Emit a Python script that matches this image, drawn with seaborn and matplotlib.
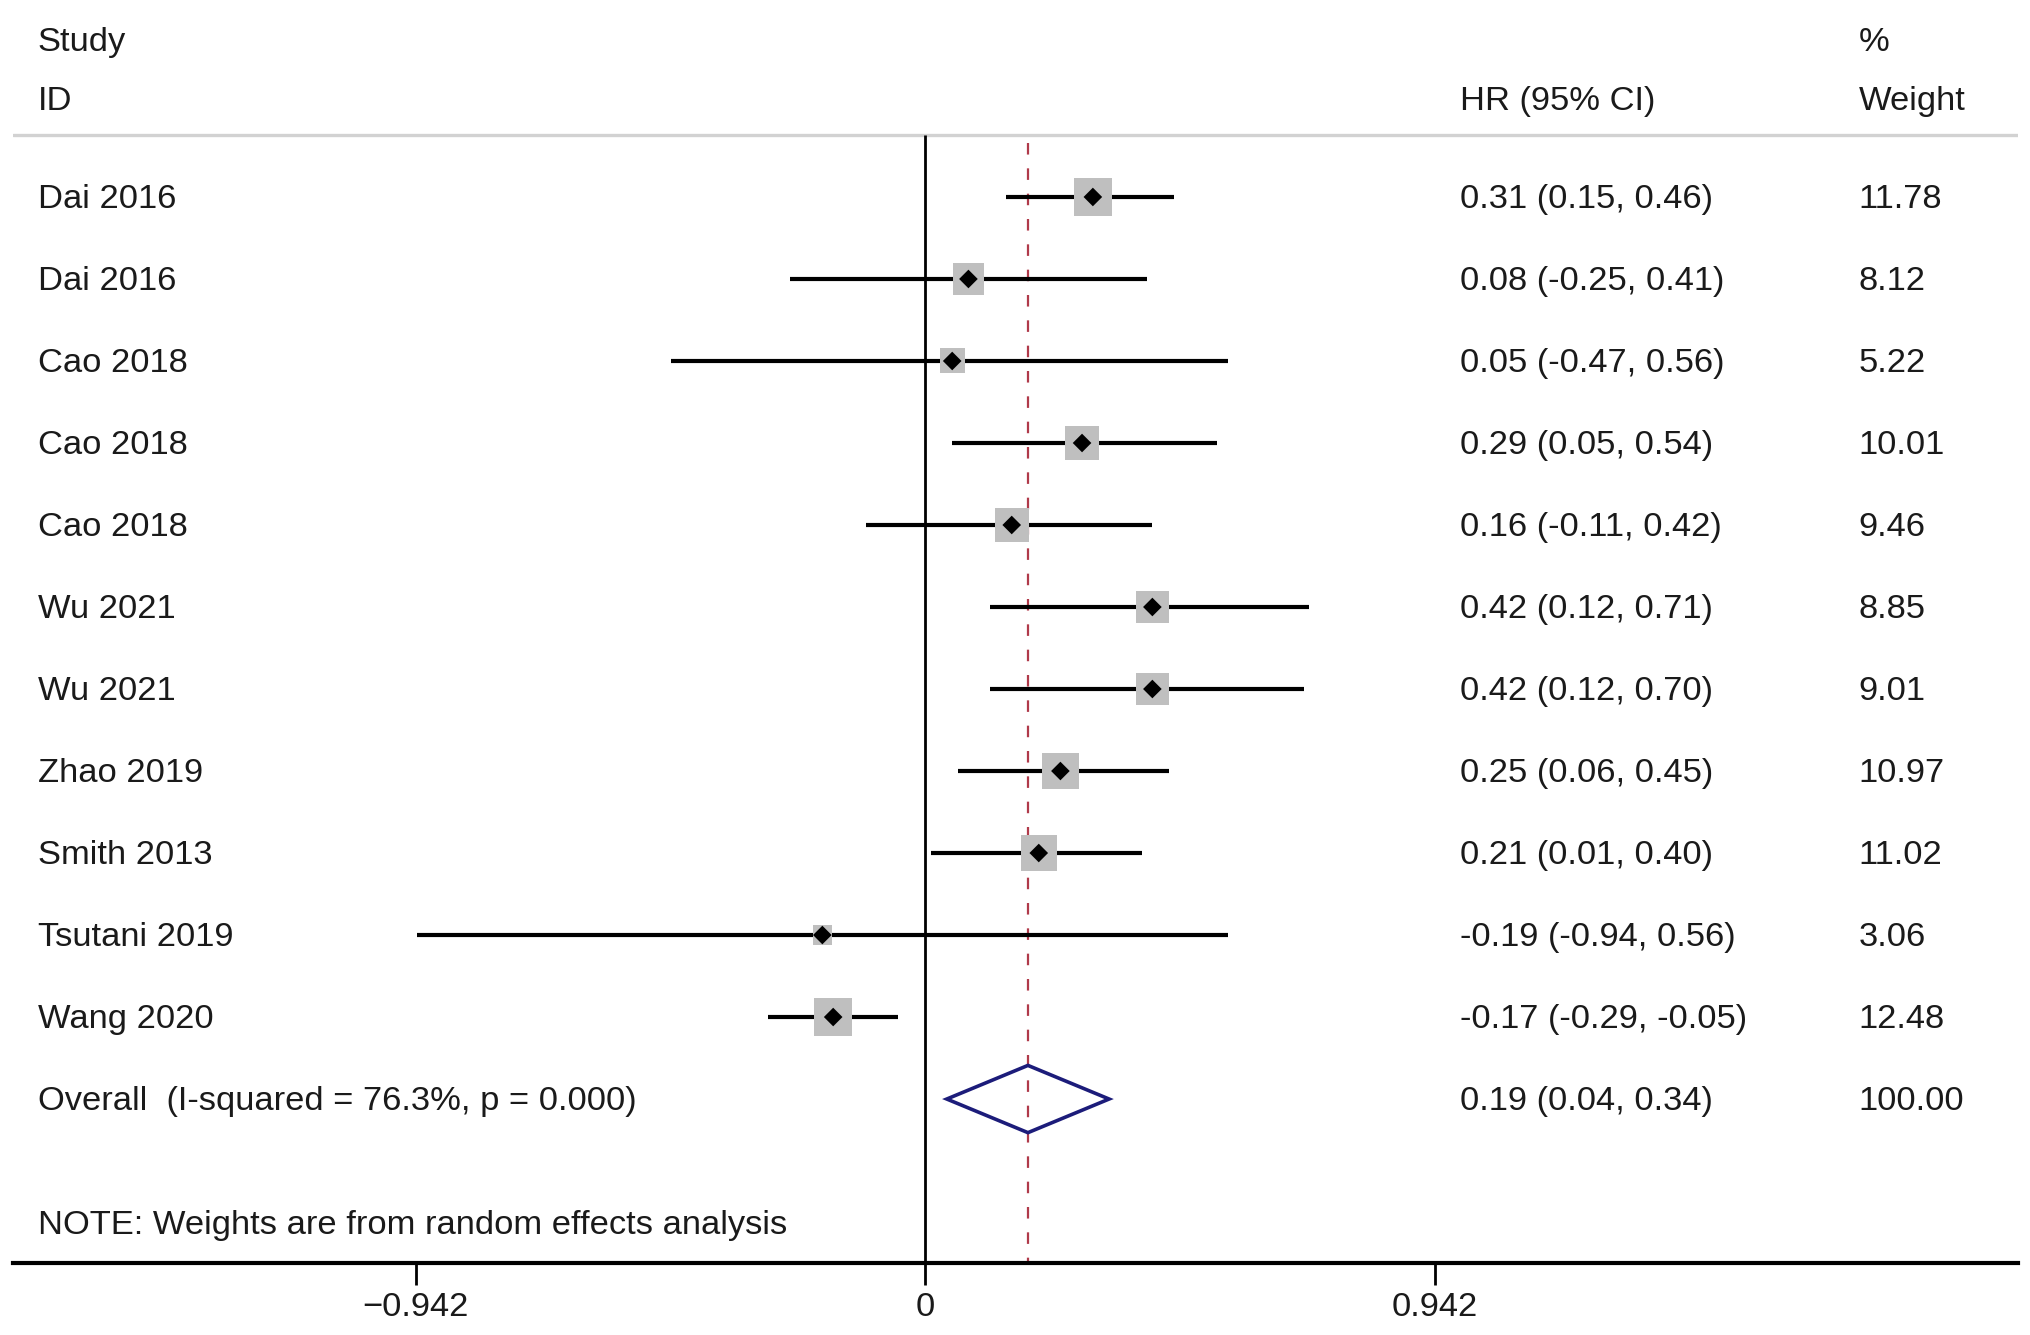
import matplotlib
matplotlib.use("Agg")
import matplotlib.pyplot as plt
import seaborn as sns
import pandas as pd

# study data
studies = ["Dai 2016", "Dai 2016", "Cao 2018", "Cao 2018", "Cao 2018", "Wu 2021",
           "Wu 2021", "Zhao 2019", "Smith 2013", "Tsutani 2019", "Wang 2020"]
hr = [0.31, 0.08, 0.05, 0.29, 0.16, 0.42, 0.42, 0.25, 0.21, -0.19, -0.17]
lo = [0.15, -0.25, -0.47, 0.05, -0.11, 0.12, 0.12, 0.06, 0.01, -0.94, -0.29]
hi = [0.46, 0.41, 0.56, 0.54, 0.42, 0.71, 0.70, 0.45, 0.40, 0.56, -0.05]
weight = [11.78, 8.12, 5.22, 10.01, 9.46, 8.85, 9.01, 10.97, 11.02, 3.06, 12.48]

overall_label = "Overall  (I-squared = 76.3%, p = 0.000)"
overall_hr = 0.19
overall_lo = 0.04
overall_hi = 0.34
overall_weight = 100.00

ticks = [-0.942, 0, 0.942]
tick_labels = ["\u22120.942", "0", "0.942"]

df = pd.DataFrame({"study": studies, "hr": hr, "lo": lo, "hi": hi, "weight": weight})
df["row"] = range(len(df))
overall_row = len(df)

sns.set_theme(style="white")
plt.rcParams['font.family'] = ['Liberation Sans', 'DejaVu Sans']
txt = "#1a1a1a"
fs = 24.8
dy = 0.03  # nudge text so it sits centred on the row like the markers

fig = plt.figure(figsize=(20.31, 13.35), dpi=100)
ax = fig.add_axes([0.0064, 0.0539, 0.9872, 0.9461])
ax.set_xlim(-1.686, 2.020)
ax.set_ylim(13.0, -2.402)

# header line, zero line and pooled-estimate line
ax.axhline(-0.756, color="#d2d2d2", lw=2.4, zorder=1)
ax.vlines(0, -0.756, 13.0, color="black", lw=2.0, zorder=2)
ax.vlines(overall_hr, -0.66, 13.0, color="#b03a4a", lw=1.6,
          linestyles=(0, (5.2, 6.2)), zorder=2)

# confidence intervals
ax.hlines(df["row"], df["lo"], df["hi"], color="black", lw=3.0, zorder=3)

# weight squares + point estimates
sns.scatterplot(data=df, x="hr", y="row", marker="s", s=df["weight"] * 62,
                color="#bfbfbf", edgecolor="none", ax=ax, zorder=4, legend=False)
sns.scatterplot(data=df, x="hr", y="row", marker="D", s=90,
                color="black", edgecolor="none", ax=ax, zorder=5, legend=False)

# overall diamond
h = 0.41
ax.fill([overall_lo, overall_hr, overall_hi, overall_hr, overall_lo],
        [overall_row, overall_row - h, overall_row, overall_row + h, overall_row],
        facecolor="none", edgecolor="#1c1c7a", lw=2.6, zorder=5)

# text columns
x_id, x_hr, x_w = -1.640, 0.989, 1.725
ax.text(x_id, -1.91 + dy, "Study", fontsize=fs, color=txt, va="center")
ax.text(x_id, -1.20 + dy, "ID", fontsize=fs, color=txt, va="center")
ax.text(x_hr, -1.20 + dy, "HR (95% CI)", fontsize=fs, color=txt, va="center")
ax.text(x_w, -1.91 + dy, "%", fontsize=fs, color=txt, va="center")
ax.text(x_w, -1.20 + dy, "Weight", fontsize=fs, color=txt, va="center")

for _, r in df.iterrows():
    y = r["row"] + dy
    ax.text(x_id, y, r["study"], fontsize=fs, color=txt, va="center")
    ax.text(x_hr, y, f"{r['hr']:.2f} ({r['lo']:.2f}, {r['hi']:.2f})",
            fontsize=fs, color=txt, va="center")
    ax.text(x_w, y, f"{r['weight']:.2f}", fontsize=fs, color=txt, va="center")

ax.text(x_id, overall_row + dy, overall_label, fontsize=fs, color=txt, va="center")
ax.text(x_hr, overall_row + dy, f"{overall_hr:.2f} ({overall_lo:.2f}, {overall_hi:.2f})",
        fontsize=fs, color=txt, va="center")
ax.text(x_w, overall_row + dy, f"{overall_weight:.2f}", fontsize=fs, color=txt, va="center")
ax.text(x_id, 12.51 + dy, "NOTE: Weights are from random effects analysis",
        fontsize=fs, color=txt, va="center")

# axis styling
for side in ["top", "left", "right"]:
    ax.spines[side].set_visible(False)
ax.spines["bottom"].set_color("black")
ax.spines["bottom"].set_linewidth(3.0)
ax.set_yticks([])
ax.set_xticks(ticks)
ax.set_xticklabels(tick_labels, fontsize=fs, color=txt)
ax.tick_params(axis="x", direction="out", length=16, width=2.0, pad=5,
               bottom=True, color="black")
ax.set_xlabel("")
ax.set_ylabel("")

fig.savefig("out.png", dpi=100, facecolor="white")
